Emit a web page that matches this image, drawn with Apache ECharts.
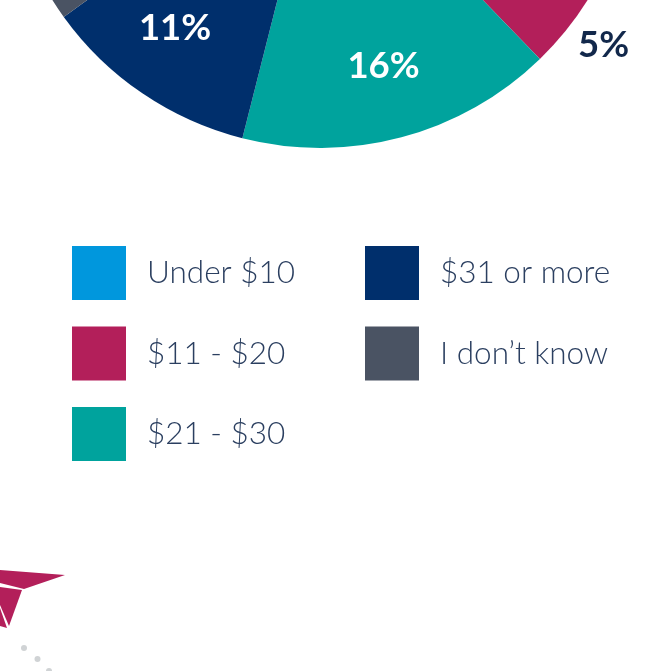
<!DOCTYPE html>
<html>
<head>
<meta charset="utf-8">
<style>
html, body { margin: 0; padding: 0; background: #fff; }
#main { width: 659px; height: 671px; }
</style>
<script src="https://cdn.jsdelivr.net/npm/echarts@6/dist/echarts.min.js"></script>
</head>
<body>
<div id="main"></div>
<script>
// data (blue and grey are mostly cropped, estimated)
var categories = ['Under $10', '$11 - $20', '$21 - $30', '$31 or more', 'I don\u2019t know'];
var values = [32.8, 4.95, 16.2, 11.1, 34.95];
var colors = ['#0097dd', '#b31f5a', '#00a39d', '#002f6c', '#4a5363'];
var labelColors = ['#fff', '#12284b', '#fff', '#fff', '#fff'];
// push labels out from the default inside spot
var labelDx = [72, 155, 22, -54.5, -75];
var labelDy = [-44, 116, 79, 63, 37];

var myChart = echarts.init(document.getElementById('main'));

var legendBase = {
	orient: 'vertical',
	top: 246,
	padding: 0,
	itemWidth: 54,
	itemHeight: 54,
	itemGap: 26.5,
	icon: 'rect',
	selectedMode: false,
	textStyle: {
		fontFamily: 'Lato',
		fontWeight: 300,
		fontSize: 31.5,
		color: '#2b3f60',
		padding: [3, 0, 0, 16]
	}
};

var seriesData = categories.map(function(name, i) {
	return {
		name: name,
		value: values[i],
		itemStyle: { color: colors[i] },
		label: { color: labelColors[i] }
	};
});

myChart.setOption({
	backgroundColor: '#fff',
	animation: false,
	legend: [
		Object.assign({}, legendBase, { left: 72, data: categories.slice(0, 3) }),
		Object.assign({}, legendBase, { left: 365, data: categories.slice(3) })
	],
	series: [{
		type: 'pie',
		center: [320, -168],
		radius: 316,
		startAngle: 90,
		clockwise: true,
		data: seriesData,
		label: {
			position: 'inside',
			formatter: function(params) {
				return Math.round(params.value) + '%';
			},
			fontFamily: 'Lato',
			fontWeight: 700,
			fontSize: 36.5
		},
		labelLine: { show: false },
		labelLayout: function(params) {
			return { dx: labelDx[params.dataIndex], dy: labelDy[params.dataIndex] };
		}
	}],
	// paper plane decoration in the bottom corner
	graphic: [
		{ type: 'polygon', shape: { points: [[0, 570], [65, 575], [24, 589], [0, 583]] }, style: { fill: '#b31f5a' } },
		{ type: 'polygon', shape: { points: [[0, 587], [22, 590], [9, 626], [0, 605]] }, style: { fill: '#b31f5a' } },
		{ type: 'polygon', shape: { points: [[0, 608], [7, 628], [0, 626]] }, style: { fill: '#b31f5a' } },
		{ type: 'circle', shape: { cx: 24, cy: 648, r: 3 }, style: { fill: '#d0d3d5' } },
		{ type: 'circle', shape: { cx: 37.5, cy: 659, r: 3 }, style: { fill: '#d0d3d5' } },
		{ type: 'circle', shape: { cx: 49, cy: 671, r: 3 }, style: { fill: '#d0d3d5' } }
	]
});
</script>
</body>
</html>
